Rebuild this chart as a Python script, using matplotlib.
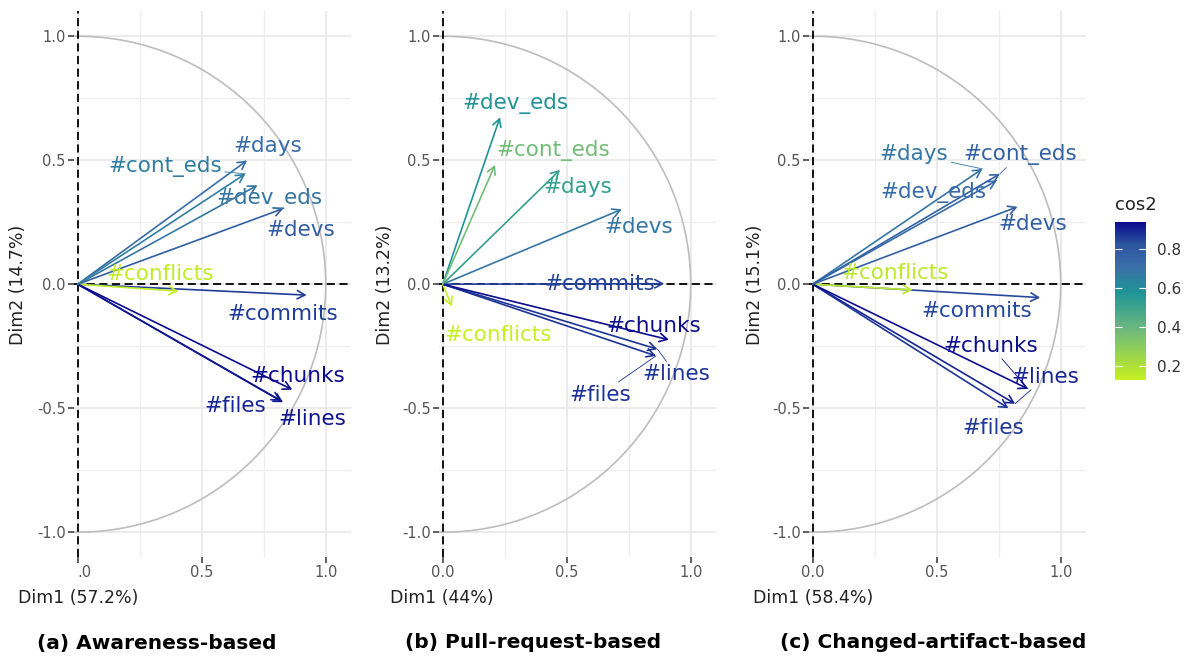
import numpy as np
import matplotlib.pyplot as plt
from matplotlib.colors import LinearSegmentedColormap, Normalize
from matplotlib.cm import ScalarMappable

W, H = 1189, 657  # figure size in px

variables = ['#commits', '#devs', '#days', '#conflicts', '#files',
             '#lines', '#chunks', '#dev_eds', '#cont_eds']

# (a) Awareness-based
a_dim1 = [0.923, 0.829, 0.683, 0.406, 0.820, 0.828, 0.865, 0.725, 0.676]
a_dim2 = [-0.044, 0.305, 0.499, -0.028, -0.470, -0.476, -0.425, 0.399, 0.445]
a_lab_x = [0.825, 0.900, 0.765, 0.334, 0.636, 0.945, 0.889, 0.775, 0.352]
a_lab_y = [-0.122, 0.218, 0.556, 0.040, -0.492, -0.544, -0.371, 0.347, 0.476]
a_link = [0, 0, 0, 0, 0, 0, 0, 0, 1]

# (b) Pull-request-based
b_dim1 = [0.893, 0.722, 0.473, 0.037, 0.860, 0.866, 0.912, 0.231, 0.211]
b_dim2 = [0.002, 0.302, 0.461, -0.090, -0.289, -0.262, -0.224, 0.673, 0.481]
b_lab_x = [0.635, 0.789, 0.543, 0.225, 0.634, 0.940, 0.850, 0.294, 0.446]
b_lab_y = [0.000, 0.229, 0.390, -0.204, -0.446, -0.363, -0.168, 0.730, 0.539]
b_link = [0, 0, 0, 0, 1, 1, 0, 0, 0]

# (c) Changed-artifact-based
c_dim1 = [0.917, 0.826, 0.684, 0.403, 0.789, 0.816, 0.868, 0.742, 0.755]
c_dim2 = [-0.054, 0.312, 0.465, -0.023, -0.500, -0.482, -0.422, 0.418, 0.445]
c_lab_x = [0.663, 0.889, 0.408, 0.334, 0.726, 0.939, 0.718, 0.485, 0.836]
c_lab_y = [-0.110, 0.241, 0.524, 0.047, -0.579, -0.374, -0.249, 0.370, 0.524]
c_link = [0, 0, 1, 0, 0, 1, 1, 1, 1]

# cos2 colour range of each panel (the legend shows the last one)
cos2_range = [(0.15, 0.93), (0.01, 0.89), (0.13, 0.94)]

pct_dim1 = ['57.2%', '44%', '58.4%']
pct_dim2 = ['14.7%', '13.2%', '15.1%']
captions = ['(a) Awareness-based', '(b) Pull-request-based', '(c) Changed-artifact-based']

cbar_ticks = [0.2, 0.4, 0.6, 0.8]

# gradient: yellow-green -> teal -> dark blue
grad_pos = [0.0, 0.33, 0.55, 0.72, 0.86, 1.0]
grad_cols = ['#c6f020', '#6ab77f', '#1f9696', '#3a6ea8', '#2c55a0', '#0a0a8c']
cmap = LinearSegmentedColormap.from_list('cos2', list(zip(grad_pos, grad_cols)))

fig = plt.figure(figsize=(W / 100, H / 100), dpi=100)

panels = [
    (a_dim1, a_dim2, a_lab_x, a_lab_y, a_link),
    (b_dim1, b_dim2, b_lab_x, b_lab_y, b_link),
    (c_dim1, c_dim2, c_lab_x, c_lab_y, c_link),
]
ax_left = [74, 439, 809]
ylab_x = [18, 385, 755]
xlab_x = [18, 390, 753]
cap_x = [157, 533, 933]
ax_top, ax_w, ax_h = 11.4, 276.5, 545.6

theta = np.linspace(0, 2 * np.pi, 400)

for i, (d1, d2, lx, ly, link) in enumerate(panels):
    ax = fig.add_axes([ax_left[i] / W, 1 - (ax_top + ax_h) / H, ax_w / W, ax_h / H])
    ax.set_xlim(-0.015, 1.1)
    ax.set_ylim(-1.1, 1.1)
    for s in ax.spines.values():
        s.set_visible(False)
    ax.set_xticks([0, 0.5, 1.0])
    ax.set_xticks([0.25, 0.75], minor=True)
    ax.set_yticks([-1, -0.5, 0, 0.5, 1])
    ax.set_yticks([-0.75, -0.25, 0.25, 0.75], minor=True)
    ax.set_yticklabels(['-1.0', '-0.5', '0.0', '0.5', '1.0'])
    if i == 0:
        ax.set_xticklabels(['.0', '0.5', '1.0'])
        ax.get_xticklabels()[0].set_ha('left')
    else:
        ax.set_xticklabels(['0.0', '0.5', '1.0'])
    ax.grid(which='major', color='#e6e6e6', lw=1.1)
    ax.grid(which='minor', color='#eeeeee', lw=0.9)
    ax.set_axisbelow(True)
    ax.tick_params(which='major', length=4, width=1.1, color='#333333',
                   labelcolor='#555555', labelsize=10.5, pad=2)
    ax.tick_params(which='minor', length=0)

    ax.plot(np.cos(theta), np.sin(theta), color='#bdbdbd', lw=1.2, zorder=1)
    ax.axhline(0, color='black', ls=(0, (4.5, 2.5)), lw=1.3, zorder=2)
    ax.axvline(0, color='black', ls=(0, (4.5, 2.5)), lw=1.3, zorder=2)

    norm = Normalize(*cos2_range[i], clip=True)
    cos2 = np.array(d1) ** 2 + np.array(d2) ** 2
    for j, name in enumerate(variables):
        col = cmap(norm(cos2[j]))
        ax.annotate('', xy=(d1[j], d2[j]), xytext=(0, 0),
                    arrowprops=dict(arrowstyle='->,head_length=0.55,head_width=0.3',
                                    color=col, lw=1.2, shrinkA=0, shrinkB=0), zorder=3)
        if link[j]:
            ax.annotate(name, xy=(d1[j], d2[j]), xytext=(lx[j], ly[j]),
                        ha='center', va='center', color=col, fontsize=15.5,
                        arrowprops=dict(arrowstyle='-', color=col, lw=0.6,
                                        shrinkA=0, shrinkB=0), zorder=4)
        else:
            ax.text(lx[j], ly[j], name, ha='center', va='center', color=col,
                    fontsize=15.5, zorder=4)

    fig.text(ylab_x[i] / W, 1 - 285 / H, 'Dim2 (' + pct_dim2[i] + ')', rotation=90,
             ha='center', va='center', fontsize=12.5, color='#222222')
    fig.text(xlab_x[i] / W, 1 - 598 / H, 'Dim1 (' + pct_dim1[i] + ')',
             ha='left', va='center', fontsize=12.5, color='#222222')
    fig.text(cap_x[i] / W, 1 - 643 / H, captions[i], ha='center', va='center',
             fontsize=14.5, fontweight='bold')

# colorbar (range of the last panel)
cax = fig.add_axes([1115 / W, 1 - 380 / H, 31 / W, 158 / H])
cb = fig.colorbar(ScalarMappable(norm=Normalize(*cos2_range[2]), cmap=cmap),
                  cax=cax, ticks=cbar_ticks)
cb.outline.set_visible(False)
cax.tick_params(direction='in', length=5, width=0.8, color='white', left=True, right=True,
                labelsize=11, labelcolor='#333333', pad=8)
fig.text(1115 / W, 1 - 205 / H, 'cos2', ha='left', va='center', fontsize=13, color='#222222')

plt.savefig('out.png', dpi=100)
